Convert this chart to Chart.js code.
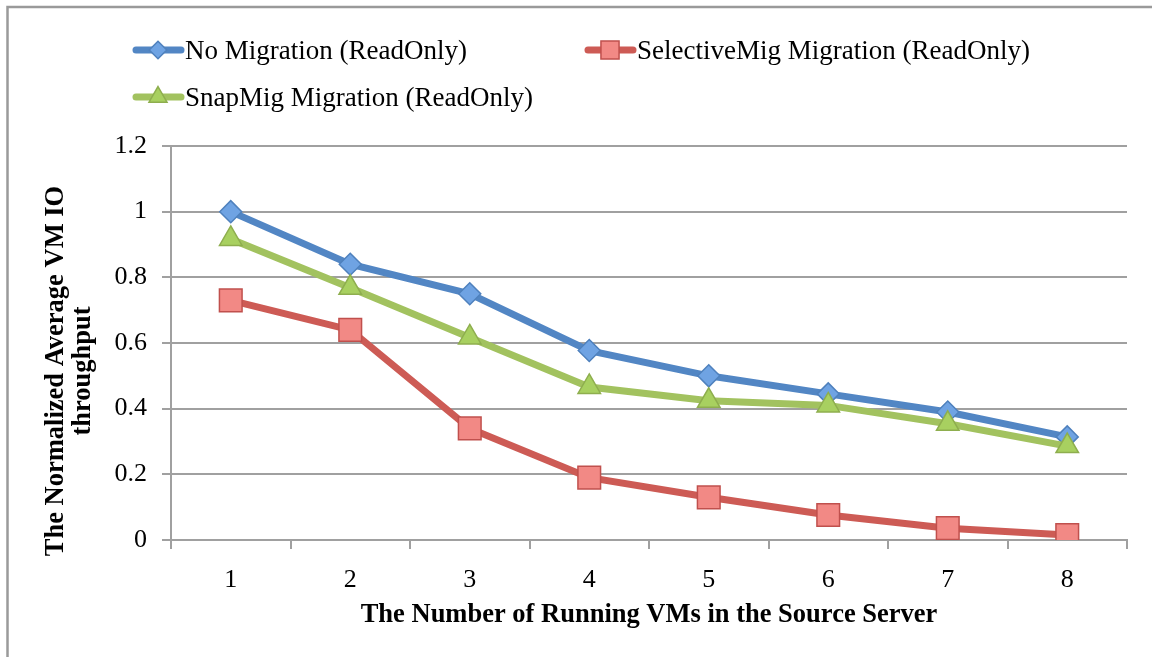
<!DOCTYPE html>
<html>
<head>
<meta charset="utf-8">
<script src="https://cdn.jsdelivr.net/npm/chart.js@4/dist/chart.umd.min.js"></script>
<style>
  html, body { margin: 0; padding: 0; background: #fff; }
  #wrap { width: 1152px; height: 657px; }
</style>
</head>
<body>
<div id="wrap"><canvas id="chart" width="1152" height="657"></canvas></div>
<script>
// data
const vmCounts = ["1", "2", "3", "4", "5", "6", "7", "8"];
const noMigration = [1.0, 0.84, 0.75, 0.577, 0.50, 0.445, 0.39, 0.314];
const selectiveMig = [0.73, 0.64, 0.34, 0.19, 0.13, 0.076, 0.036, 0.015];
const snapMig = [0.917, 0.768, 0.617, 0.466, 0.424, 0.41, 0.354, 0.286];
const seriesNames = [
  "No Migration (ReadOnly)",
  "SelectiveMig Migration (ReadOnly)",
  "SnapMig Migration (ReadOnly)"
];
const yTitle = ["The Normalized Average VM IO", "throughput"];
const xTitle = "The Number of Running VMs in the Source Server";

const gray = "#a0a0a0";
const serif = "'Liberation Serif', 'Times New Roman', serif";

// excel-ish frame, legend and axis titles
const decorations = {
  id: "decorations",
  beforeDraw(chart) {
    const ctx = chart.ctx;
    ctx.save();
    ctx.strokeStyle = "#9a9a9a";
    ctx.lineWidth = 2.5;
    ctx.strokeRect(7.5, 7, 2000, 2000);
    ctx.restore();
  },
  afterDraw(chart) {
    const ctx = chart.ctx;
    const area = chart.chartArea;
    ctx.save();

    // legend
    const spots = [[133, 50], [585, 50], [133, 97]];
    chart.data.datasets.forEach((ds, i) => {
      const [x, y] = spots[i];
      ctx.strokeStyle = ds.borderColor;
      ctx.lineWidth = 7;
      ctx.lineCap = "round";
      ctx.beginPath();
      ctx.moveTo(x + 3, y);
      ctx.lineTo(x + 48, y);
      ctx.stroke();
      ctx.fillStyle = ds.pointBackgroundColor;
      ctx.strokeStyle = ds.pointBorderColor;
      ctx.lineWidth = 1.5;
      Chart.helpers.drawPoint(ctx, {
        pointStyle: ds.pointStyle,
        radius: ds.pointRadius * 0.8,
        rotation: 0,
        borderWidth: 1.5
      }, x + 25, y);
      ctx.fillStyle = "#000";
      ctx.font = "27px " + serif;
      ctx.textAlign = "left";
      ctx.textBaseline = "middle";
      ctx.fillText(seriesNames[i], x + 52, y + 2);
    });

    // axis titles
    ctx.fillStyle = "#000";
    ctx.font = "bold 26.5px " + serif;
    ctx.textAlign = "center";
    ctx.textBaseline = "middle";
    ctx.fillText(xTitle, (area.left + area.right) / 2, 615);

    ctx.translate(56, 371);
    ctx.rotate(-Math.PI / 2);
    ctx.fillText(yTitle[0], 0, 0);
    ctx.fillText(yTitle[1], 0, 27);
    ctx.restore();
  }
};

function line(label, values, color, style, radius, fill, edge, order) {
  return {
    label: label,
    data: values,
    borderColor: color,
    borderWidth: 7,
    pointStyle: style,
    pointRadius: radius,
    pointHoverRadius: radius,
    pointBackgroundColor: fill,
    pointBorderColor: edge,
    pointBorderWidth: 1.5,
    tension: 0,
    order: order
  };
}

new Chart(document.getElementById("chart"), {
  type: "line",
  data: {
    labels: vmCounts,
    datasets: [
      line(seriesNames[0], noMigration, "#5286c4", "rectRot", 11, "#6fa3e3", "#4f81bd", 3),
      line(seriesNames[1], selectiveMig, "#cd5b55", "rect", 16, "#f28985", "#c0504d", 2),
      line(seriesNames[2], snapMig, "#a2c25f", "triangle", 13, "#a8d060", "#8eae4e", 1)
    ]
  },
  options: {
    responsive: false,
    animation: false,
    events: [],
    layout: { padding: { left: 0, top: 146, right: 25, bottom: 0 } },
    plugins: {
      legend: { display: false },
      tooltip: { enabled: false }
    },
    scales: {
      x: {
        offset: true,
        afterFit(scale) { scale.height = 117; },
        grid: {
          offset: true,
          drawOnChartArea: false,
          drawTicks: true,
          tickLength: 9,
          color: gray,
          lineWidth: 2
        },
        border: { color: gray, width: 2 },
        ticks: {
          color: "#000",
          padding: 16,
          font: { family: serif, size: 26 }
        }
      },
      y: {
        min: 0,
        max: 1.2,
        afterFit(scale) { scale.width = 171; },
        grid: {
          color: gray,
          lineWidth: 2,
          tickLength: 9
        },
        border: { color: gray, width: 2 },
        ticks: {
          stepSize: 0.2,
          color: "#000",
          padding: 15,
          font: { family: serif, size: 26 },
          callback: v => Math.round(v * 10) / 10
        }
      }
    }
  },
  plugins: [decorations]
});
</script>
</body>
</html>
